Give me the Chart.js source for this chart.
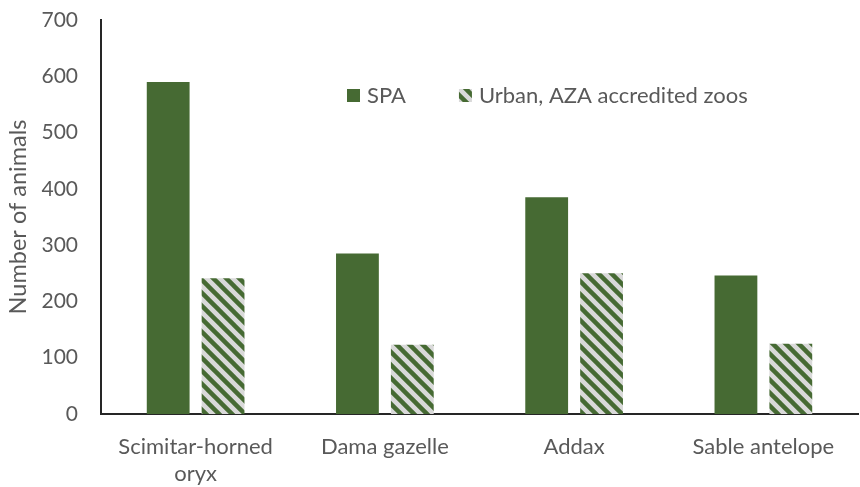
<!DOCTYPE html>
<html lang="en">
<head>
    <meta charset="UTF-8">
    <title>Number of animals by species</title>
    <script src="https://cdn.jsdelivr.net/npm/chart.js"></script>
    <style>
        body {
            margin: 0;
            background: #ffffff;
        }
        .chart-box {
            width: 860px;
            height: 487px;
            position: relative;
        }
    </style>
</head>
<body>
    <div class="chart-box">
        <canvas id="speciesChart"></canvas>
    </div>

    <script>
        // data
        const species = [["Scimitar-horned", "oryx"], "Dama gazelle", "Addax", "Sable antelope"];
        const spaCounts = [590, 285, 385, 246];
        const zooCounts = [241, 123, 250, 125];
        const seriesNames = ["SPA", "Urban, AZA accredited zoos"];
        const yTicks = [0, 100, 200, 300, 400, 500, 600, 700];

        const green = "#466a33";
        const textGrey = "#595959";
        const fontName = "Lato, 'Open Sans', sans-serif";

        // light grey tile with wide downward diagonal stripes
        function makeHatch() {
            let c = document.createElement("canvas");
            c.width = 13;
            c.height = 13;
            let g = c.getContext("2d");
            g.fillStyle = "#d9d9d9";
            g.fillRect(0, 0, 13, 13);
            g.strokeStyle = green;
            g.lineWidth = 4.5;
            for (let k = -13; k <= 13; k += 13) {
                g.beginPath();
                g.moveTo(k - 2, -2);
                g.lineTo(k + 15, 15);
                g.stroke();
            }
            return g.createPattern(c, "repeat");
        }
        const hatch = makeHatch();

        // legend sits inside the plot, like the original
        const insideLegend = {
            id: "insideLegend",
            afterDraw(chart, args, opts) {
                let ctx = chart.ctx;
                ctx.save();
                ctx.font = "22px " + fontName;
                ctx.textBaseline = "middle";
                let x = opts.x;
                chart.data.datasets.forEach((ds, i) => {
                    ctx.fillStyle = ds.backgroundColor;
                    ctx.fillRect(x, opts.y - 6, 13, 13);
                    x += 13 + 7;
                    ctx.fillStyle = textGrey;
                    ctx.fillText(ds.label, x, opts.y + 1);
                    x += ctx.measureText(ds.label).width + opts.gap;
                });
                ctx.restore();
            }
        };

        new Chart(document.getElementById("speciesChart"), {
            type: "bar",
            data: {
                labels: species,
                datasets: [
                    { label: seriesNames[0], data: spaCounts, backgroundColor: green },
                    { label: seriesNames[1], data: zooCounts, backgroundColor: hatch }
                ]
            },
            options: {
                responsive: true,
                maintainAspectRatio: false,
                animation: false,
                categoryPercentage: 0.58,
                barPercentage: 0.78,
                layout: { padding: { top: 20, right: 2, left: 0, bottom: 0 } },
                plugins: {
                    legend: { display: false },
                    tooltip: { enabled: false },
                    insideLegend: { x: 347, y: 95, gap: 53 }
                },
                scales: {
                    x: {
                        grid: { display: false },
                        border: { color: "#262626", width: 2 },
                        afterFit: axis => { axis.height = 73; },
                        ticks: {
                            color: textGrey,
                            font: { family: fontName, size: 22 },
                            padding: 12,
                            maxRotation: 0
                        }
                    },
                    y: {
                        min: 0,
                        max: 700,
                        grid: { display: false },
                        border: { color: "#262626", width: 2 },
                        afterBuildTicks: axis => { axis.ticks = yTicks.map(v => ({ value: v })); },
                        afterFit: axis => {
                            axis.width = 101;
                            axis.paddingTop = 0;
                        },
                        ticks: {
                            color: textGrey,
                            font: { family: fontName, size: 21 },
                            padding: 15
                        },
                        title: {
                            display: true,
                            text: "Number of animals",
                            color: textGrey,
                            font: { family: fontName, size: 23.5 },
                            padding: { bottom: 6 }
                        }
                    }
                }
            },
            plugins: [insideLegend]
        });
    </script>
</body>
</html>
